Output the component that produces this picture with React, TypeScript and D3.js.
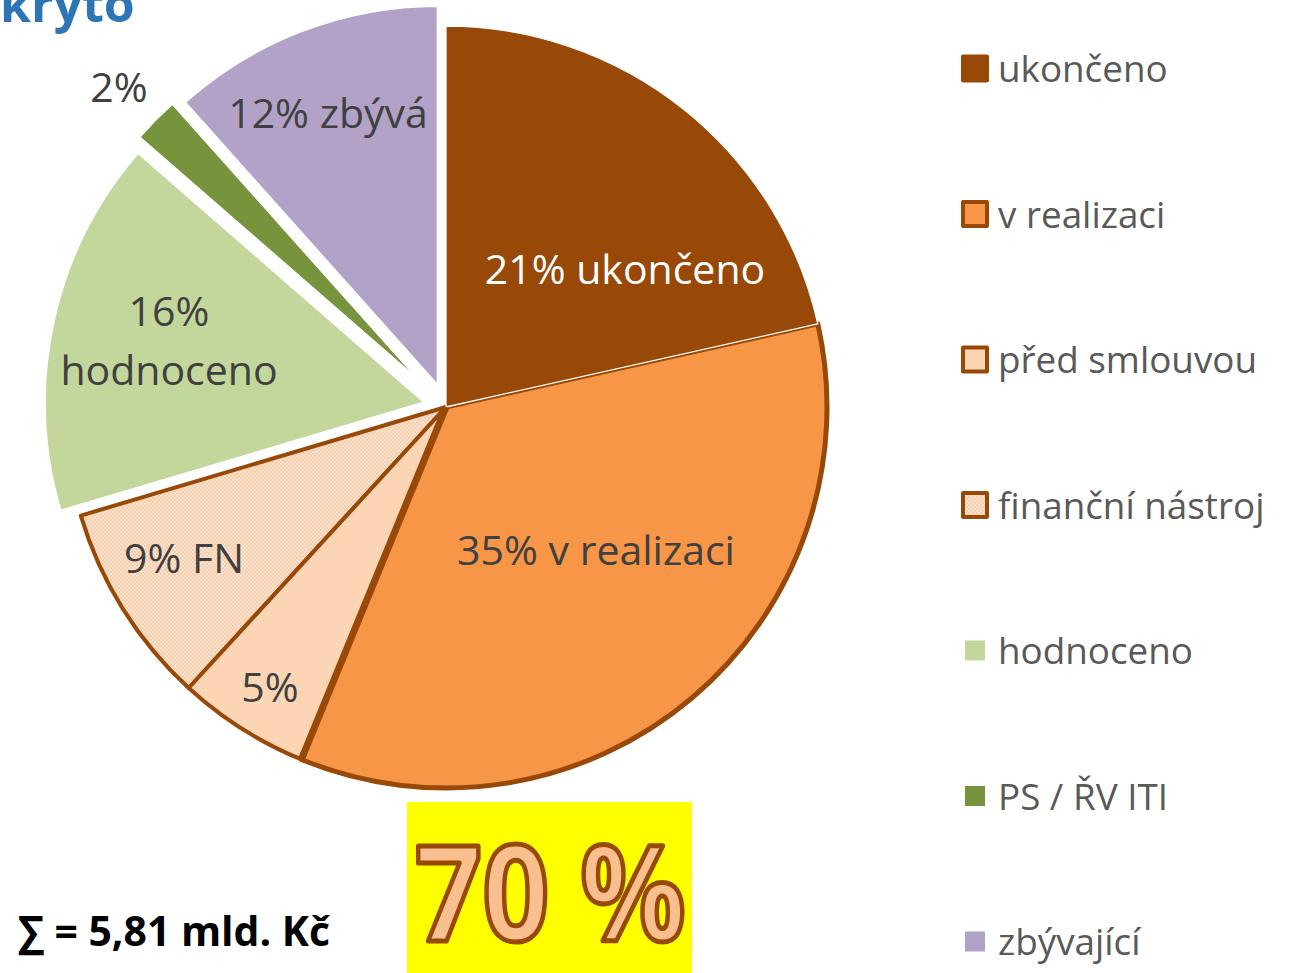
import React from 'react';
import * as d3 from 'd3';

// shares (percent of 5,81 mld. Kč)
const categories = ['ukončeno', 'v realizaci', 'před smlouvou', 'finanční nástroj', 'hodnoceno', 'PS / ŘV ITI', 'zbývající'];
const shares = [21.5, 34.7, 5.6, 8.6, 16.0, 2.0, 11.6];
const sliceLabels = [['21% ukončeno'], ['35% v realizaci'], ['5%'], ['9% FN'], ['16%', 'hodnoceno'], ['2%'], ['12% zbývá']];
const colors = ['#984807', '#F79646', '#FCD5B5', 'url(#fnPattern)', '#C3D69B', '#77933C', '#B2A2C7'];

const coveredLabel = '70 %';
const totalLabel = '∑ = 5,81 mld. Kč';
const titleLabel = 'kryto';

const BROWN = '#984807';
const W = 1291;
const H = 973;
const cx = 446;
const cy = 407;
const R = 381;

// explode offsets, strokes, label placement (relative to pie centre)
const explode = [0, 0, 0, 0, 21, 28, 22];
const strokeColor = ['#fff', BROWN, BROWN, BROWN, '#fff', '#fff', '#fff'];
const strokeW = [1.3, 5, 4, 4, 3, 3, 3];
const drawOrder = [3, 2, 1, 4, 5, 6, 0];
const labelAt = [[179, -123], [150, 158], [-176, 295], [-262, 166], [-277, -81], [-327, -305], [-118, -279]];

const App = () => {
  const pie = d3.pie<number>().sort(null).value(d => d).startAngle(0).endAngle(2 * Math.PI);
  const arcs = pie(shares);
  const arc = d3.arc<d3.PieArcDatum<number>>().innerRadius(0).outerRadius(R);

  const legendY = d3.scaleLinear().domain([0, categories.length - 1]).range([68.5, 941.5]);

  const offset = (i: number) => {
    const a = (arcs[i].startAngle + arcs[i].endAngle) / 2;
    return [Math.sin(a) * explode[i], -Math.cos(a) * explode[i]];
  };

  // v realizaci / před smlouvou edge is drawn heavier in the original
  const edgeA = arcs[1].endAngle;

  return (
    <svg width={W} height={H} style={{ position: 'absolute', left: 0, top: 0 }} fontFamily="'Open Sans', sans-serif">
      <defs>
        <pattern id="fnPattern" width={4} height={4} patternUnits="userSpaceOnUse">
          <rect width={4} height={4} fill="#FDE6D4" />
          <rect width={2} height={2} fill="#FBCBA8" />
          <rect x={2} y={2} width={2} height={2} fill="#FBCBA8" />
        </pattern>
      </defs>
      <rect width={W} height={H} fill="#fff" />

      <g transform={`translate(${cx},${cy})`}>
        {drawOrder.map(i => {
          const [dx, dy] = offset(i);
          return (
            <path
              key={i}
              d={arc(arcs[i]) || ''}
              transform={`translate(${dx},${dy})`}
              fill={colors[i]}
              stroke={strokeColor[i]}
              strokeWidth={strokeW[i]}
              strokeLinejoin="round"
            />
          );
        })}
        <line
          x1={0}
          y1={0}
          x2={Math.sin(edgeA) * R}
          y2={-Math.cos(edgeA) * R}
          stroke={BROWN}
          strokeWidth={7}
        />
        {sliceLabels.map((lines, i) => (
          <text
            key={i}
            x={labelAt[i][0]}
            y={labelAt[i][1]}
            textAnchor="middle"
            fontSize={41}
            fill={i === 0 ? '#fff' : '#404040'}
          >
            {lines.map((t, j) => (
              <tspan key={j} x={labelAt[i][0]} dy={j === 0 ? 0 : 59}>{t}</tspan>
            ))}
          </text>
        ))}
      </g>

      <g>
        {categories.map((c, i) => {
          const y = legendY(i);
          const framed = i < 4;
          const s = framed ? 24 : 20;
          return (
            <g key={c}>
              <rect
                x={975 - s / 2}
                y={y - s / 2}
                width={s}
                height={s}
                fill={colors[i]}
                stroke={framed ? BROWN : 'none'}
                strokeWidth={framed ? 4 : 0}
                strokeLinejoin="round"
              />
              <text x={998} y={y + 13.5} fontSize={36.8} fill="#595959">{c}</text>
            </g>
          );
        })}
      </g>

      <text x={0} y={22} fontSize={50} fontWeight={700} fill="#2E75B6">{titleLabel}</text>
      <text x={18} y={946} fontSize={42} fontWeight={700} fill="#000" textLength={312} lengthAdjust="spacingAndGlyphs">{totalLabel}</text>

      <rect x={407} y={802} width={285} height={171} fill="#FFFF00" />
      <text
        x={415}
        y={941}
        fontSize={132}
        fontWeight={700}
        fill="#F9BF8F"
        stroke={BROWN}
        strokeWidth={5}
        strokeLinejoin="round"
        textLength={271}
        lengthAdjust="spacingAndGlyphs"
      >
        {coveredLabel}
      </text>
    </svg>
  );
};

export default App;
